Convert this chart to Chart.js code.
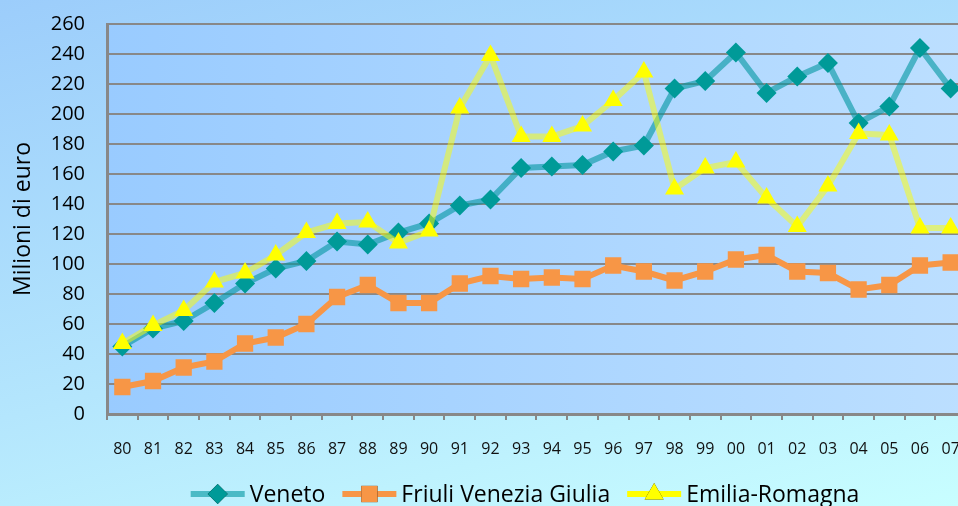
<!DOCTYPE html>
<html>
<head>
<meta charset="utf-8">
<script src="https://cdn.jsdelivr.net/npm/chart.js@4"></script>
<style>
  html, body { margin: 0; padding: 0; overflow: hidden; }
  body {
    width: 958px; height: 506px;
    background: linear-gradient(165deg, #9ccdfb 0%, #b4e6fd 55%, #c8feff 100%);
  }
  #wrap { width: 980px; height: 506px; }
</style>
</head>
<body>
<div id="wrap"><canvas id="chart" width="980" height="506"></canvas></div>
<script>
const years = ['80','81','82','83','84','85','86','87','88','89','90','91','92','93',
               '94','95','96','97','98','99','00','01','02','03','04','05','06','07'];
const veneto = [45, 57, 62, 74, 87, 97, 102, 115, 113, 121, 127, 139, 143, 164,
                165, 166, 175, 179, 217, 222, 241, 214, 225, 234, 194, 205, 244, 217];
const friuli = [18, 22, 31, 35, 47, 51, 60, 78, 86, 74, 74, 87, 92, 90,
                91, 90, 99, 95, 89, 95, 103, 106, 95, 94, 83, 86, 99, 101];
const emilia = [47, 59, 69, 88, 94, 106, 121, 127, 128, 114, 122, 204, 239, 185,
                185, 192, 209, 228, 150, 164, 168, 144, 125, 152, 187, 186, 124, 124];
const yTicks = { min: 0, max: 260, step: 20 };

// plot area gradient
const plotBg = {
  id: 'plotBg',
  beforeDraw(chart) {
    const { ctx, chartArea: a } = chart;
    const g = ctx.createLinearGradient(a.left, 0, a.right, 0);
    g.addColorStop(0, '#99cbff');
    g.addColorStop(1, '#bcdfff');
    ctx.save();
    ctx.fillStyle = g;
    ctx.fillRect(a.left, a.top, a.right - a.left, a.bottom - a.top);
    ctx.restore();
  }
};

// excel-like legend: line sample with marker in the middle
const lineLegend = {
  id: 'lineLegend',
  afterDraw(chart) {
    const { ctx } = chart;
    const sample = 54, gap = 5, between = 17, y = 494, center = 525;
    ctx.save();
    ctx.font = '23px "Open Sans"';
    ctx.textBaseline = 'middle';
    const items = chart.data.datasets.map(ds => ({ ds, w: ctx.measureText(ds.label).width }));
    const total = items.reduce((s, it) => s + sample + gap + it.w, 0) + between * (items.length - 1);
    let x = center - total / 2;
    items.forEach(({ ds, w }) => {
      ctx.strokeStyle = ds.legendLine;
      ctx.lineWidth = 6;
      ctx.beginPath();
      ctx.moveTo(x, y);
      ctx.lineTo(x + sample, y);
      ctx.stroke();
      Chart.helpers.drawPoint(ctx, {
        pointStyle: ds.pointStyle, radius: ds.pointRadius, rotation: 0,
        borderWidth: 0
      }, x + sample / 2, y);
      ctx.fillStyle = ds.pointBackgroundColor;
      ctx.fill();
      ctx.fillStyle = '#000';
      ctx.fillText(ds.label, x + sample + gap, y + 1);
      x += sample + gap + w + between;
    });
    ctx.restore();
  }
};

new Chart(document.getElementById('chart'), {
  type: 'line',
  data: {
    labels: years,
    datasets: [
      {
        label: 'Veneto', data: veneto, order: 2,
        borderColor: 'rgba(0,150,160,0.6)', legendLine: 'rgba(0,150,160,0.6)', borderWidth: 6,
        pointStyle: 'rectRot', pointRadius: 10,
        pointBackgroundColor: '#009a98', pointBorderWidth: 0
      },
      {
        label: 'Friuli Venezia Giulia', data: friuli, order: 1,
        borderColor: '#f79646', legendLine: '#f79646', borderWidth: 6,
        pointStyle: 'rect', pointRadius: 11.5,
        pointBackgroundColor: '#f79646', pointBorderWidth: 0
      },
      {
        label: 'Emilia-Romagna', data: emilia, order: 0,
        borderColor: 'rgba(255,255,0,0.5)', legendLine: '#ffff00', borderWidth: 6,
        pointStyle: 'triangle', pointRadius: 11,
        pointBackgroundColor: '#ffff00', pointBorderWidth: 0
      }
    ]
  },
  options: {
    responsive: false,
    animation: false,
    layout: { padding: { top: 24, right: 2, left: 10, bottom: 0 } },
    plugins: { legend: { display: false }, tooltip: { enabled: false } },
    scales: {
      x: {
        offset: true,
        grid: { offset: true, drawOnChartArea: false, color: '#888', lineWidth: 2, tickLength: 6 },
        border: { color: '#888', width: 3 },
        ticks: { color: '#111', font: { family: 'Open Sans', size: 16 }, padding: 20, maxRotation: 0, autoSkip: false },
        afterFit(scale) { scale.height = 92; }
      },
      y: {
        min: yTicks.min, max: yTicks.max,
        grid: { color: '#888', lineWidth: 2, drawTicks: false },
        border: { color: '#888', width: 3 },
        ticks: { stepSize: yTicks.step, color: '#000', font: { family: 'Open Sans', size: 20 }, padding: 22 },
        title: { display: true, text: 'Milioni di euro', color: '#000', font: { family: 'Open Sans', size: 23 }, padding: { top: 0, bottom: 8 } },
        afterFit(scale) {
          scale.width = 97;
          scale.paddingTop = 0;
          scale.paddingBottom = 0;
        }
      }
    }
  },
  plugins: [plotBg, lineLegend]
});
</script>
</body>
</html>
